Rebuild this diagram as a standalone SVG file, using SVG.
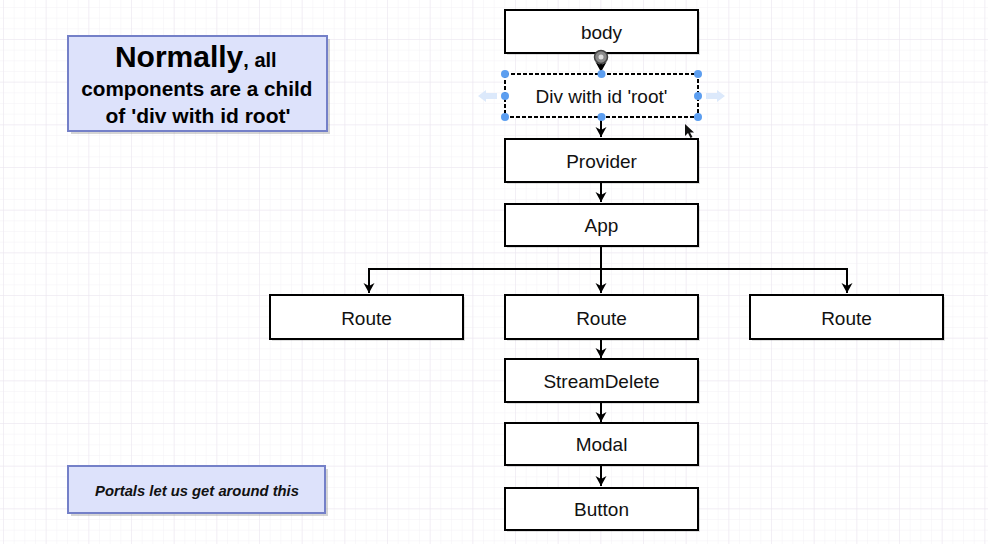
<svg xmlns="http://www.w3.org/2000/svg" width="988" height="544" viewBox="0 0 988 544">
<style>
.box{fill:#fff;stroke:#000;stroke-width:2}
.shadow{fill:#000;opacity:0.12}
.lbl{font-family:"Liberation Sans",Arial,sans-serif;font-size:19px;fill:#111;text-anchor:middle;dominant-baseline:central}
.note{fill:#dde2fb;stroke:#7480c8;stroke-width:2}
.nshadow{fill:#888;opacity:0.35}
.edge{fill:none;stroke:#000;stroke-width:2}
.handle{fill:#5c9ef0}
</style>
<defs>
<pattern id="minor" width="10.667" height="10.667" patternUnits="userSpaceOnUse" patternTransform="translate(3,-3.67)">
<path d="M0 0H10.667M0 0V10.667" fill="none" stroke="#f4f1f6" stroke-width="1"/>
</pattern>
<pattern id="major" width="42.667" height="42.667" patternUnits="userSpaceOnUse" patternTransform="translate(3,-3.67)">
<path d="M0 0H42.667M0 0V42.667" fill="none" stroke="#ebe6ef" stroke-width="1"/>
</pattern>
<marker id="arr" markerWidth="12" markerHeight="12" refX="10" refY="6" orient="auto" markerUnits="userSpaceOnUse">
<path d="M0 0.5L10 6L0 11.5L3 6Z" fill="#000"/>
</marker>
</defs>
<rect width="988" height="544" fill="#fff"/>
<rect width="988" height="544" fill="url(#minor)"/>
<rect width="988" height="544" fill="url(#major)"/>

<g id="connectors">
<path class="edge" d="M601 54V72" marker-end="url(#arr)"/>
<path class="edge" d="M601 117V137" marker-end="url(#arr)"/>
<path class="edge" d="M601 182V202" marker-end="url(#arr)"/>
<path class="edge" d="M601 246V293" marker-end="url(#arr)"/>
<path class="edge" d="M601 269H369V293" marker-end="url(#arr)"/>
<path class="edge" d="M601 269H847V293" marker-end="url(#arr)"/>
<path class="edge" d="M601 340V358" marker-end="url(#arr)"/>
<path class="edge" d="M601 403V422" marker-end="url(#arr)"/>
<path class="edge" d="M601 466V486" marker-end="url(#arr)"/>
</g>

<g id="note-normally">
<rect class="nshadow" x="71" y="39" width="259" height="95"/>
<rect class="note" x="68" y="36" width="259" height="95"/>
<text font-family="'Liberation Sans',Arial,sans-serif" font-weight="bold" fill="#000" text-anchor="middle">
<tspan x="198" y="67"><tspan font-size="30">Normally</tspan><tspan font-size="20">, all</tspan></tspan>
<tspan x="199" y="96" font-size="20.7">components are a child</tspan>
<tspan x="198" y="123" font-size="21">of 'div with id root'</tspan>
</text>
</g>

<g id="note-portals">
<rect class="nshadow" x="71" y="469" width="257" height="47"/>
<rect class="note" x="68" y="466" width="257" height="47"/>
<text x="197" y="491" font-family="'Liberation Sans',Arial,sans-serif" font-weight="bold" font-style="italic" font-size="14.8" fill="#111" text-anchor="middle" dominant-baseline="central">Portals let us get around this</text>
</g>

<g id="node-body">
<rect class="shadow" x="507" y="12" width="193" height="43"/>
<rect class="box" x="505" y="10" width="193" height="43"/>
<text class="lbl" x="601.5" y="32">body</text>
</g>

<g id="node-div">
<rect class="box" x="505" y="74" width="193" height="43" stroke-dasharray="4 2"/>
<text class="lbl" x="601.5" y="96">Div with id 'root'</text>
<path d="M478 96L486 90V93H497V99H486V102Z" fill="#dce9fb"/>
<path d="M725 96L717 90V93H706V99H717V102Z" fill="#dce9fb"/>
<g class="handle">
<circle cx="505" cy="74" r="4"/><circle cx="601.5" cy="74" r="4"/><circle cx="698" cy="74" r="4"/>
<circle cx="505" cy="96" r="4"/><circle cx="698" cy="96" r="4"/>
<circle cx="505" cy="117" r="4"/><circle cx="601.5" cy="117" r="4"/><circle cx="698" cy="117" r="4"/>
</g>
<circle cx="601" cy="57" r="6.5" fill="#8a8a8a" stroke="#444" stroke-width="1.5"/>
<circle cx="601" cy="57" r="2.5" fill="#ddd"/>
<path d="M685 124L685 136L688 133L690.5 138L692.5 137L690 132.5L694 132.5Z" fill="#111"/>
</g>

<g id="node-provider">
<rect class="shadow" x="507" y="141" width="193" height="43"/>
<rect class="box" x="505" y="139" width="193" height="43"/>
<text class="lbl" x="601.5" y="161">Provider</text>
</g>

<g id="node-app">
<rect class="shadow" x="507" y="206" width="193" height="42"/>
<rect class="box" x="505" y="204" width="193" height="42"/>
<text class="lbl" x="601.5" y="225">App</text>
</g>

<g id="node-route-left">
<rect class="shadow" x="272" y="297" width="193" height="44"/>
<rect class="box" x="270" y="295" width="193" height="44"/>
<text class="lbl" x="366.5" y="318">Route</text>
</g>

<g id="node-route-mid">
<rect class="shadow" x="507" y="297" width="193" height="44"/>
<rect class="box" x="505" y="295" width="193" height="44"/>
<text class="lbl" x="601.5" y="318">Route</text>
</g>

<g id="node-route-right">
<rect class="shadow" x="752" y="297" width="193" height="44"/>
<rect class="box" x="750" y="295" width="193" height="44"/>
<text class="lbl" x="846.5" y="318">Route</text>
</g>

<g id="node-streamdelete">
<rect class="shadow" x="507" y="361" width="193" height="43"/>
<rect class="box" x="505" y="359" width="193" height="43"/>
<text class="lbl" x="601.5" y="381">StreamDelete</text>
</g>

<g id="node-modal">
<rect class="shadow" x="507" y="425" width="193" height="42"/>
<rect class="box" x="505" y="423" width="193" height="42"/>
<text class="lbl" x="601.5" y="444">Modal</text>
</g>

<g id="node-button">
<rect class="shadow" x="507" y="490" width="193" height="42"/>
<rect class="box" x="505" y="488" width="193" height="42"/>
<text class="lbl" x="601.5" y="509">Button</text>
</g>
</svg>
